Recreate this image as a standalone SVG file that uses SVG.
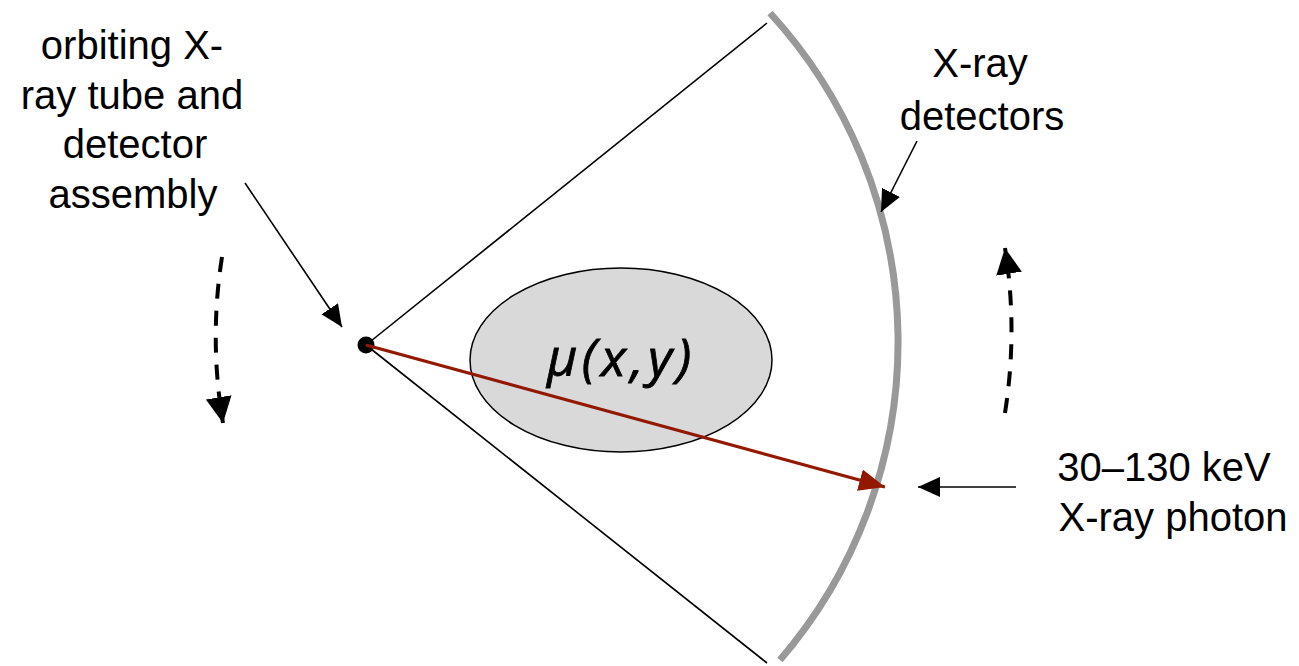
<svg xmlns="http://www.w3.org/2000/svg" width="1299" height="666" viewBox="0 0 1299 666">
  <style>
    .lbl { font-family: "Liberation Sans", Arial, sans-serif; font-size: 40px; fill: #000; text-anchor: middle; }
    .thin { stroke: #000; stroke-width: 1.6; fill: none; }
    .dash { stroke: #000; stroke-width: 4; fill: none; stroke-dasharray: 15 12; }
    .math { font-family: "Open Sans", "Noto Sans", sans-serif; font-style: italic; font-size: 52px; letter-spacing: 4.5px; fill: #000; stroke: #000; stroke-width: 0.8; }
  </style>
  <defs>
    <marker id="ah" markerUnits="userSpaceOnUse" markerWidth="24" markerHeight="22" refX="22" refY="10" orient="auto">
      <path d="M0,0 L22,10 L0,20 z" fill="#000"/>
    </marker>
    <marker id="ahRed" markerUnits="userSpaceOnUse" markerWidth="28" markerHeight="24" refX="26" refY="11" orient="auto">
      <path d="M0,0 L26,11 L0,22 z" fill="#931800"/>
    </marker>
    <marker id="ahBig" markerUnits="userSpaceOnUse" markerWidth="28" markerHeight="28" refX="26" refY="13" orient="auto">
      <path d="M0,0 L26,13 L0,26 z" fill="#000"/>
    </marker>
  </defs>

  <g id="fan">
    <line class="thin" x1="366" y1="345" x2="767" y2="23"/>
    <line class="thin" x1="366" y1="345" x2="767" y2="663"/>
  </g>

  <g id="detectors">
    <path d="M770,13 A487,487 0 0 1 780,660" fill="none" stroke="#999999" stroke-width="7"/>
  </g>

  <g id="object">
    <ellipse cx="621" cy="360" rx="151" ry="92" fill="#d9d9d9" stroke="#000" stroke-width="1.5"/>
    <text class="math" x="547" y="376">μ(x,y)</text>
  </g>

  <g id="source">
    <circle cx="366" cy="345" r="8.5" fill="#000"/>
  </g>

  <g id="connectors">
    <line x1="366" y1="345" x2="885" y2="487" stroke="#931800" stroke-width="3.2" marker-end="url(#ahRed)"/>
    <line class="thin" x1="245" y1="183" x2="342" y2="327" marker-end="url(#ah)"/>
    <line class="thin" x1="917" y1="141" x2="881" y2="212" marker-end="url(#ah)"/>
    <line class="thin" x1="1016" y1="487" x2="918" y2="487" marker-end="url(#ah)"/>
    <path class="dash" d="M222,257 Q209,340 223,423" marker-end="url(#ahBig)"/>
    <path class="dash" d="M1005,413 Q1018,330 1005,248" marker-end="url(#ahBig)"/>
  </g>

  <g id="label-assembly">
    <text class="lbl" x="132" y="59">orbiting X-</text>
    <text class="lbl" x="132" y="109">ray tube and</text>
    <text class="lbl" x="135" y="158">detector</text>
    <text class="lbl" x="133" y="208">assembly</text>
  </g>

  <g id="label-detectors">
    <text class="lbl" x="980" y="77">X-ray</text>
    <text class="lbl" x="982" y="130">detectors</text>
  </g>

  <g id="label-photon">
    <text class="lbl" x="1164" y="481">30–130 keV</text>
    <text class="lbl" x="1173" y="531">X-ray photon</text>
  </g>
</svg>
